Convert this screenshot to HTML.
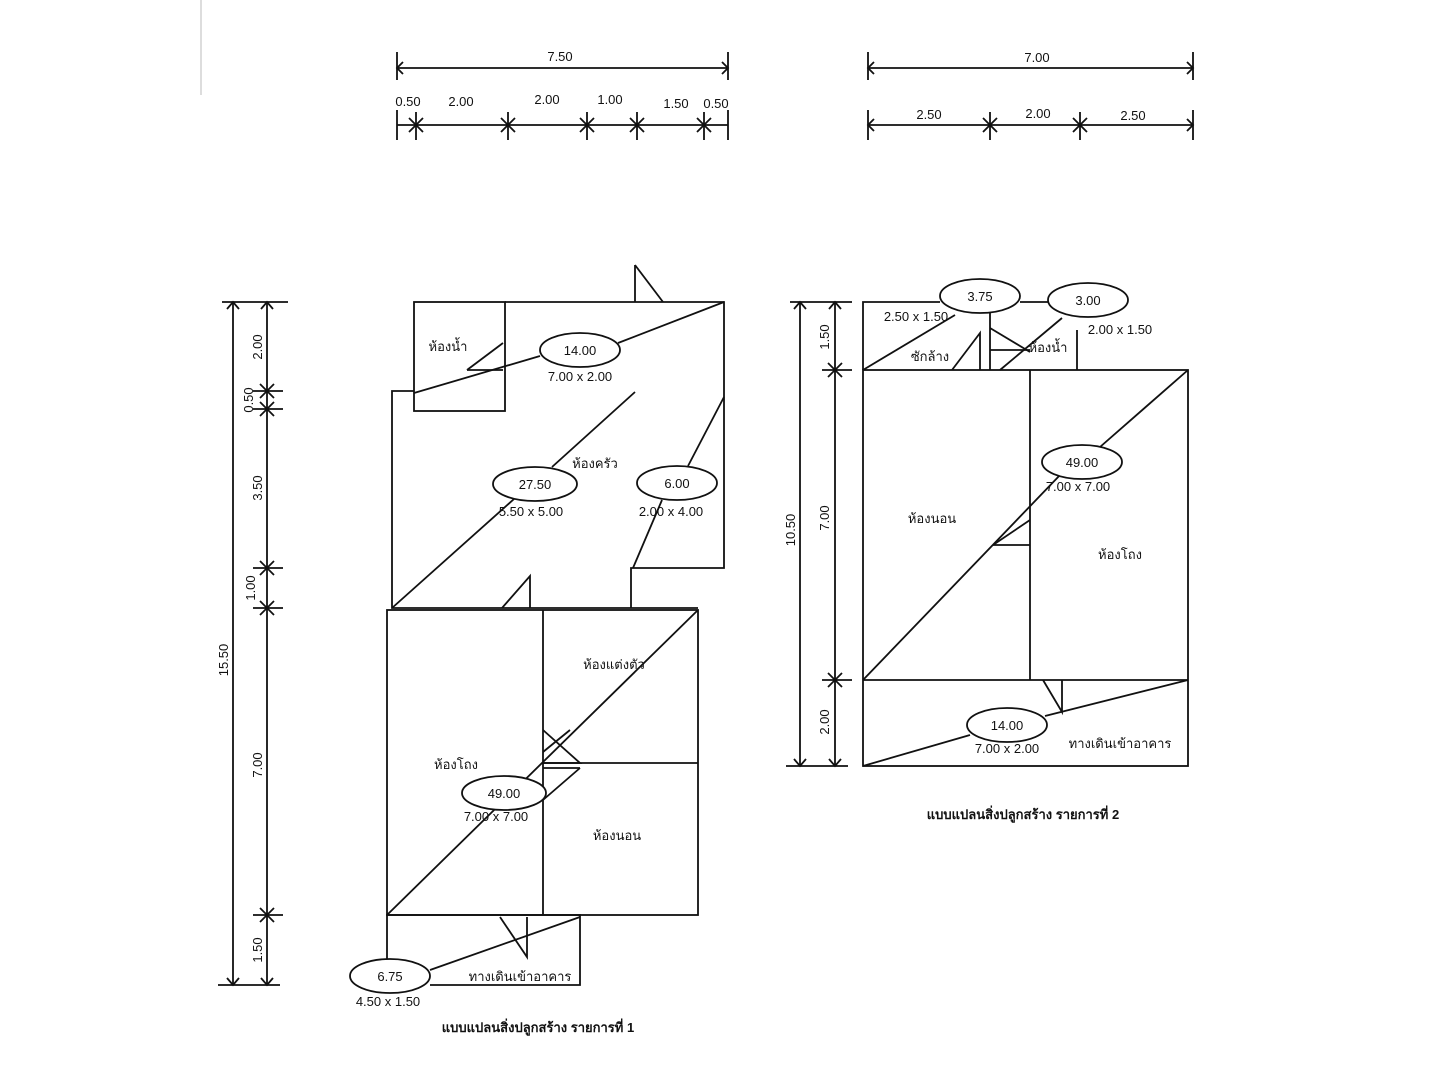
<!DOCTYPE html>
<html><head><meta charset="utf-8"><style>
html,body{margin:0;padding:0;background:#fff;}
svg{display:block;}
text{font-family:"Liberation Sans","Noto Sans CJK SC",sans-serif;font-size:13px;fill:#111;}
</style></head><body>
<svg width="1440" height="1080" viewBox="0 0 1440 1080" xmlns="http://www.w3.org/2000/svg">
<g stroke="#111" stroke-width="1.8" fill="none">
<line x1="201" y1="0" x2="201" y2="95" stroke="#bbb" stroke-width="1"/>
<!-- top dims plan1 -->
<line x1="397" y1="68" x2="728" y2="68"/>
<line x1="397" y1="52" x2="397" y2="80"/><line x1="728" y1="52" x2="728" y2="80"/>
<polyline points="403,62 397,68 403,74"/><polyline points="722,62 728,68 722,74"/>
<line x1="397" y1="125" x2="728" y2="125"/>
<line x1="397" y1="110" x2="397" y2="140"/><line x1="728" y1="110" x2="728" y2="140"/>
<g>
<line x1="416" y1="112" x2="416" y2="140"/><line x1="409" y1="118" x2="423" y2="132"/><line x1="423" y1="118" x2="409" y2="132"/>
<line x1="508" y1="112" x2="508" y2="140"/><line x1="501" y1="118" x2="515" y2="132"/><line x1="515" y1="118" x2="501" y2="132"/>
<line x1="587" y1="112" x2="587" y2="140"/><line x1="580" y1="118" x2="594" y2="132"/><line x1="594" y1="118" x2="580" y2="132"/>
<line x1="637" y1="112" x2="637" y2="140"/><line x1="630" y1="118" x2="644" y2="132"/><line x1="644" y1="118" x2="630" y2="132"/>
<line x1="704" y1="112" x2="704" y2="140"/><line x1="697" y1="118" x2="711" y2="132"/><line x1="711" y1="118" x2="697" y2="132"/>
</g>
<!-- top dims plan2 -->
<line x1="868" y1="68" x2="1193" y2="68"/>
<line x1="868" y1="52" x2="868" y2="80"/><line x1="1193" y1="52" x2="1193" y2="80"/>
<polyline points="874,62 868,68 874,74"/><polyline points="1187,62 1193,68 1187,74"/>
<line x1="868" y1="125" x2="1193" y2="125"/>
<line x1="868" y1="110" x2="868" y2="140"/><line x1="1193" y1="110" x2="1193" y2="140"/>
<polyline points="874,119 868,125 874,131"/><polyline points="1187,119 1193,125 1187,131"/>
<line x1="990" y1="112" x2="990" y2="140"/><line x1="983" y1="118" x2="997" y2="132"/><line x1="997" y1="118" x2="983" y2="132"/>
<line x1="1080" y1="112" x2="1080" y2="140"/><line x1="1073" y1="118" x2="1087" y2="132"/><line x1="1087" y1="118" x2="1073" y2="132"/>
<!-- left dims plan1 -->
<line x1="233" y1="302" x2="233" y2="985"/><line x1="267" y1="302" x2="267" y2="985"/>
<line x1="222" y1="302" x2="288" y2="302"/><line x1="218" y1="985" x2="280" y2="985"/>
<polyline points="227,309 233,302 239,309"/><polyline points="227,978 233,985 239,978"/>
<polyline points="261,309 267,302 273,309"/><polyline points="261,978 267,985 273,978"/>
<g>
<line x1="253" y1="391" x2="283" y2="391"/><line x1="260" y1="384" x2="274" y2="398"/><line x1="274" y1="384" x2="260" y2="398"/>
<line x1="253" y1="409" x2="283" y2="409"/><line x1="260" y1="402" x2="274" y2="416"/><line x1="274" y1="402" x2="260" y2="416"/>
<line x1="253" y1="568" x2="283" y2="568"/><line x1="260" y1="561" x2="274" y2="575"/><line x1="274" y1="561" x2="260" y2="575"/>
<line x1="253" y1="608" x2="283" y2="608"/><line x1="260" y1="601" x2="274" y2="615"/><line x1="274" y1="601" x2="260" y2="615"/>
<line x1="253" y1="915" x2="283" y2="915"/><line x1="260" y1="908" x2="274" y2="922"/><line x1="274" y1="908" x2="260" y2="922"/>
</g>
<!-- plan1 upper -->
<polyline points="505,302 724,302 724,568 631,568 631,608"/>
<rect x="414" y="302" width="91" height="109"/>
<polyline points="414,391 392,391 392,608 698,608"/>
<polyline points="635,265 635,302"/><line x1="635" y1="265" x2="663" y2="302"/>
<line x1="414" y1="393" x2="540" y2="356"/><line x1="618" y1="343" x2="724" y2="302"/>
<line x1="467" y1="370" x2="503" y2="343"/><line x1="467" y1="370" x2="503" y2="370"/>
<line x1="392" y1="608" x2="514" y2="499"/><line x1="552" y1="467" x2="635" y2="392"/>
<ellipse cx="535" cy="484" rx="42" ry="17"/>
<ellipse cx="580" cy="350" rx="40" ry="17"/>
<ellipse cx="677" cy="483" rx="40" ry="17"/>
<line x1="724" y1="397" x2="688" y2="466"/><line x1="662" y1="500" x2="633" y2="568"/>
<polyline points="502,608 530,576 530,608"/>
<!-- plan1 lower -->
<rect x="387" y="610" width="311" height="305"/>
<line x1="543" y1="610" x2="543" y2="915"/>
<line x1="543" y1="763" x2="698" y2="763"/>
<line x1="387" y1="915" x2="698" y2="610"/>
<polyline points="543,730 580,763 543,763"/><line x1="543" y1="752" x2="570" y2="730"/>
<line x1="543" y1="768" x2="580" y2="768"/><line x1="543" y1="800" x2="580" y2="768"/>
<ellipse cx="504" cy="793" rx="42" ry="17" fill="#fff"/>
<polyline points="387,960 387,915 580,915 580,985 430,985"/>
<line x1="430" y1="970" x2="580" y2="917"/>
<polyline points="500,917 527,957 527,917"/>
<ellipse cx="390" cy="976" rx="40" ry="17" fill="#fff"/>
<!-- plan2 -->
<line x1="800" y1="302" x2="800" y2="766"/><line x1="835" y1="302" x2="835" y2="766"/>
<line x1="790" y1="302" x2="852" y2="302"/><line x1="786" y1="766" x2="848" y2="766"/>
<polyline points="794,309 800,302 806,309"/><polyline points="794,759 800,766 806,759"/>
<polyline points="829,309 835,302 841,309"/><polyline points="829,759 835,766 841,759"/>
<line x1="822" y1="370" x2="852" y2="370"/><line x1="828" y1="363" x2="842" y2="377"/><line x1="842" y1="363" x2="828" y2="377"/>
<line x1="822" y1="680" x2="852" y2="680"/><line x1="828" y1="673" x2="842" y2="687"/><line x1="842" y1="673" x2="828" y2="687"/>
<polyline points="940,302 863,302 863,370"/><line x1="1020" y1="302" x2="1050" y2="302"/>
<rect x="863" y="370" width="325" height="396"/>
<line x1="990" y1="313" x2="990" y2="370"/><line x1="1077" y1="330" x2="1077" y2="370"/>
<line x1="1030" y1="370" x2="1030" y2="680"/>
<line x1="863" y1="680" x2="1188" y2="680"/>
<line x1="863" y1="370" x2="955" y2="315"/>
<polyline points="952,370 980,333 980,370"/>
<line x1="990" y1="328" x2="1030" y2="352"/><line x1="990" y1="350" x2="1030" y2="350"/>
<line x1="1000" y1="370" x2="1062" y2="318"/>
<line x1="863" y1="680" x2="1061" y2="474"/><line x1="1100" y1="447" x2="1188" y2="370"/>
<polyline points="993,545 1030,520"/><line x1="993" y1="545" x2="1030" y2="545"/>
<polyline points="1043,680 1062,712 1062,680"/>
<line x1="863" y1="766" x2="970" y2="735"/><line x1="1045" y1="716" x2="1188" y2="680"/>
<ellipse cx="1082" cy="462" rx="40" ry="17" fill="#fff"/>
<ellipse cx="1007" cy="725" rx="40" ry="17" fill="#fff"/>
<ellipse cx="980" cy="296" rx="40" ry="17" fill="#fff"/>
<ellipse cx="1088" cy="300" rx="40" ry="17" fill="#fff"/>
</g>
<!-- text -->
<text x="560" y="61" text-anchor="middle">7.50</text>
<text x="408" y="106" text-anchor="middle">0.50</text>
<text x="461" y="106" text-anchor="middle">2.00</text>
<text x="547" y="104" text-anchor="middle">2.00</text>
<text x="610" y="104" text-anchor="middle">1.00</text>
<text x="676" y="108" text-anchor="middle">1.50</text>
<text x="716" y="108" text-anchor="middle">0.50</text>
<text x="1037" y="62" text-anchor="middle">7.00</text>
<text x="929" y="119" text-anchor="middle">2.50</text>
<text x="1038" y="118" text-anchor="middle">2.00</text>
<text x="1133" y="120" text-anchor="middle">2.50</text>
<g transform="translate(262,347) rotate(-90)"><text text-anchor="middle">2.00</text></g>
<g transform="translate(253,400) rotate(-90)"><text text-anchor="middle">0.50</text></g>
<g transform="translate(262,488) rotate(-90)"><text text-anchor="middle">3.50</text></g>
<g transform="translate(255,588) rotate(-90)"><text text-anchor="middle">1.00</text></g>
<g transform="translate(228,660) rotate(-90)"><text text-anchor="middle">15.50</text></g>
<g transform="translate(262,765) rotate(-90)"><text text-anchor="middle">7.00</text></g>
<g transform="translate(262,950) rotate(-90)"><text text-anchor="middle">1.50</text></g>
<g transform="translate(795,530) rotate(-90)"><text text-anchor="middle">10.50</text></g>
<g transform="translate(829,337) rotate(-90)"><text text-anchor="middle">1.50</text></g>
<g transform="translate(829,518) rotate(-90)"><text text-anchor="middle">7.00</text></g>
<g transform="translate(829,722) rotate(-90)"><text text-anchor="middle">2.00</text></g>
<text x="448" y="351" text-anchor="middle">ห้องน้ำ</text>
<text x="580" y="355" text-anchor="middle">14.00</text>
<text x="580" y="381" text-anchor="middle">7.00 x 2.00</text>
<text x="595" y="468" text-anchor="middle">ห้องครัว</text>
<text x="535" y="489" text-anchor="middle">27.50</text>
<text x="531" y="516" text-anchor="middle">5.50 x 5.00</text>
<text x="677" y="488" text-anchor="middle">6.00</text>
<text x="671" y="516" text-anchor="middle">2.00 x 4.00</text>
<text x="614" y="669" text-anchor="middle">ห้องแต่งตัว</text>
<text x="456" y="769" text-anchor="middle">ห้องโถง</text>
<text x="504" y="798" text-anchor="middle">49.00</text>
<text x="496" y="821" text-anchor="middle">7.00 x 7.00</text>
<text x="617" y="840" text-anchor="middle">ห้องนอน</text>
<text x="390" y="981" text-anchor="middle">6.75</text>
<text x="388" y="1006" text-anchor="middle">4.50 x 1.50</text>
<text x="520" y="981" text-anchor="middle">ทางเดินเข้าอาคาร</text>
<text x="538" y="1032" text-anchor="middle" font-weight="bold">แบบแปลนสิ่งปลูกสร้าง รายการที่ 1</text>
<text x="980" y="301" text-anchor="middle">3.75</text>
<text x="916" y="321" text-anchor="middle">2.50 x 1.50</text>
<text x="1088" y="305" text-anchor="middle">3.00</text>
<text x="1120" y="334" text-anchor="middle">2.00 x 1.50</text>
<text x="930" y="361" text-anchor="middle">ซักล้าง</text>
<text x="1048" y="352" text-anchor="middle">ห้องน้ำ</text>
<text x="1082" y="467" text-anchor="middle">49.00</text>
<text x="1078" y="491" text-anchor="middle">7.00 x 7.00</text>
<text x="932" y="523" text-anchor="middle">ห้องนอน</text>
<text x="1120" y="559" text-anchor="middle">ห้องโถง</text>
<text x="1007" y="730" text-anchor="middle">14.00</text>
<text x="1007" y="753" text-anchor="middle">7.00 x 2.00</text>
<text x="1120" y="748" text-anchor="middle">ทางเดินเข้าอาคาร</text>
<text x="1023" y="819" text-anchor="middle" font-weight="bold">แบบแปลนสิ่งปลูกสร้าง รายการที่ 2</text>
</svg>
</body></html>
